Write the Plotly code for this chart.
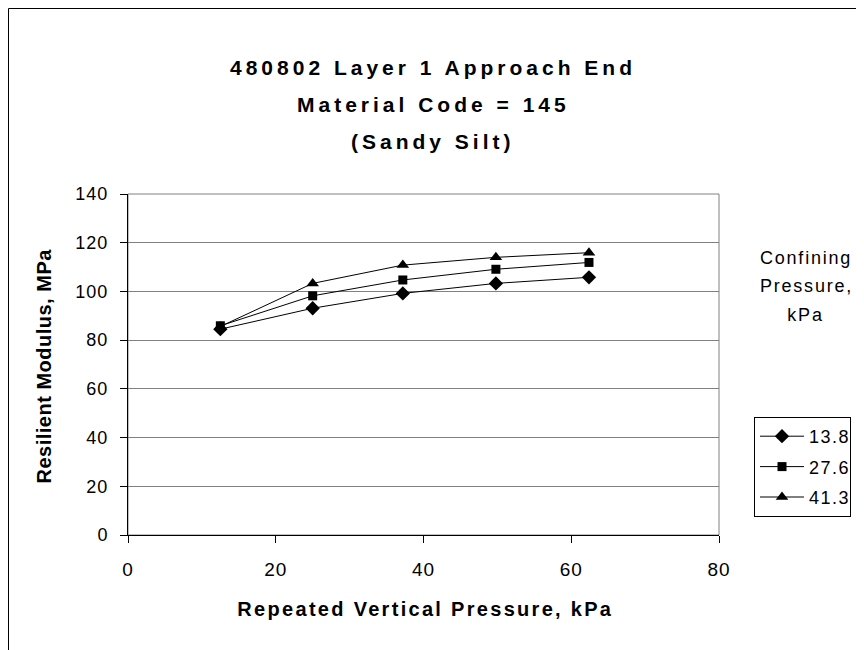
import json
import plotly.graph_objects as go

# repeated vertical pressure (kPa) and resilient modulus (MPa) per confining pressure
vertical_kpa = [12.5, 25.0, 37.2, 49.8, 62.4]
confining = ["13.8", "27.6", "41.3"]
mr_13_8 = [84.5, 93.1, 99.2, 103.3, 105.8]
mr_27_6 = [85.9, 98.2, 104.7, 109.1, 111.9]
mr_41_3 = [85.6, 103.3, 110.8, 114.0, 115.9]

title_lines = ["480802 Layer 1 Approach End", "Material Code = 145", "(Sandy Silt)"]
legend_title = ["Confining", "Pressure,", "kPa"]

FONT = "Arial, 'Liberation Sans', sans-serif"

W, H = 864, 650
OFF = 8  # page body margin
# plot area, in screenshot pixels
L, R, T, B = 128, 719, 194, 535


def px(x):
    return (x - L) / (R - L)


def py(y):
    return (B - y) / (B - T)


fig = go.Figure()

series = [mr_13_8, mr_27_6, mr_41_3]
symbols = ["diamond", "square", "triangle-up"]
sizes = [11, 9, 11]
for name, vals, sym, sz in zip(confining, series, symbols, sizes):
    fig.add_trace(go.Scatter(
        x=vertical_kpa, y=vals, name=name, legendgroup=name,
        mode="lines+markers",
        line=dict(color="black", width=1),
        marker=dict(symbol=sym, size=sz, color="black"),
    ))

annotations = []
spacing = []
for i, t in enumerate(title_lines):
    annotations.append(dict(
        text="<b>" + t + "</b>", x=px(433), y=py(67 + 37.5 * i),
        xref="paper", yref="paper", showarrow=False,
        font=dict(family=FONT, size=21, color="black"),
        xanchor="center", yanchor="middle"))
    spacing.append(4)
for i, t in enumerate(legend_title):
    annotations.append(dict(
        text=t, x=px(806), y=py(258 + 28.4 * i),
        xref="paper", yref="paper", showarrow=False,
        font=dict(family=FONT, size=18, color="black"),
        xanchor="center", yanchor="middle"))
    spacing.append(1.8)
annotations.append(dict(
    text="<b>Resilient Modulus, MPa</b>", x=px(44), y=py(366),
    xref="paper", yref="paper", showarrow=False, textangle=-90,
    font=dict(family=FONT, size=20, color="black"),
    xanchor="center", yanchor="middle"))
spacing.append(0.5)
annotations.append(dict(
    text="<b>Repeated Vertical Pressure, kPa</b>", x=px(425), y=py(609),
    xref="paper", yref="paper", showarrow=False,
    font=dict(family=FONT, size=20, color="black"),
    xanchor="center", yanchor="middle"))
spacing.append(2.3)

shapes = [
    # outer chart border (runs off the right and bottom edges)
    dict(type="rect", xref="paper", yref="paper",
         x0=px(OFF + 0.5), x1=px(900), y0=py(700), y1=py(OFF + 0.5),
         line=dict(color="black", width=1), layer="below"),
    # plot area border
    dict(type="rect", xref="paper", yref="paper", x0=0, x1=1, y0=0, y1=1,
         line=dict(color="#808080", width=1), layer="below"),
]

fig.update_layout(
    width=W, height=H,
    margin=dict(l=L - OFF, r=W - (R - OFF), t=T - OFF, b=H - (B - OFF), pad=0),
    paper_bgcolor="white", plot_bgcolor="white",
    font=dict(family=FONT, size=18, color="black"),
    showlegend=True,
    legend=dict(
        x=px(754), y=py(417), xanchor="left", yanchor="top",
        bordercolor="black", borderwidth=1, bgcolor="white",
        font=dict(family=FONT, size=18, color="black"),
        tracegroupgap=4, itemclick=False, itemwidth=44,
    ),
    annotations=annotations,
    shapes=shapes,
    xaxis=dict(
        range=[0, 80], tickvals=[0, 20, 40, 60, 80], showgrid=False,
        zeroline=False, showline=True, linecolor="black", linewidth=1,
        ticks="outside", ticklen=7, tickcolor="black",
        ticklabelstandoff=10,
        tickfont=dict(family=FONT, size=19),
    ),
    yaxis=dict(
        range=[0, 140], tickvals=[0, 20, 40, 60, 80, 100, 120, 140],
        showgrid=True, gridcolor="#808080", gridwidth=1,
        zeroline=False, showline=True, linecolor="black", linewidth=1,
        ticks="outside", ticklen=7, tickcolor="black",
        ticklabelstandoff=8,
        tickfont=dict(family=FONT, size=18),
    ),
)

# Excel-like letter spacing on the text
post = """
var gd = document.getElementById('{plot_id}');
var sp = %s;
gd.querySelectorAll('g.annotation').forEach(function(g) {
  var i = +g.getAttribute('data-index');
  g.querySelectorAll('text').forEach(function(t) { t.style.letterSpacing = sp[i] + 'px'; });
});
gd.querySelectorAll('.xtick text').forEach(function(t) { t.style.letterSpacing = '1px'; });
gd.querySelectorAll('.ytick text').forEach(function(t) { t.style.letterSpacing = '1px'; });
gd.querySelectorAll('.legendtext').forEach(function(t) { t.style.letterSpacing = '1.5px'; });
""" % json.dumps(spacing)

fig.write_html("out.html", post_script=post)
